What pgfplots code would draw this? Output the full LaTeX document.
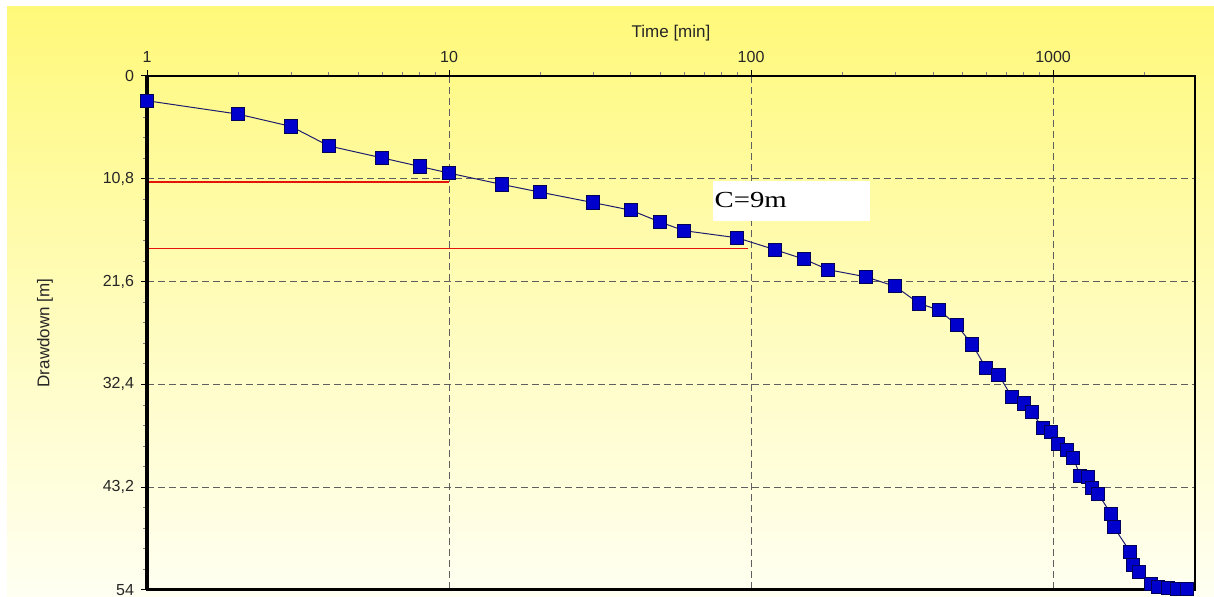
\documentclass[border=0pt]{standalone}
\usepackage{pgfplots}
\pgfplotsset{compat=1.18}
\usepackage{fontspec}
\setmainfont{Liberation Sans}
\newfontfamily\cfont[FakeStretch=1.25]{Liberation Serif}
\definecolor{ytop}{RGB}{255,249,122}
\definecolor{ymid}{RGB}{255,252,186}
\definecolor{ybot}{RGB}{255,255,242}
\definecolor{mkfill}{RGB}{0,0,205}
\definecolor{mkedge}{RGB}{0,0,90}
\definecolor{lncol}{RGB}{30,30,110}
\definecolor{gridc}{RGB}{95,95,95}
\definecolor{redl}{RGB}{228,20,10}
\begin{document}
\begin{tikzpicture}[x=1pt,y=1pt]
\fill[white] (0,0) rectangle (607,298.5);
\shade[top color=ytop, bottom color=ybot, middle color=ymid] (3.5,0) rectangle (607,295);
\useasboundingbox (0,0) rectangle (607,298.5);
\begin{axis}[
  at={(73.5pt,3.5pt)}, anchor=south west, scale only axis,
  width=524pt, height=257pt,
  xmode=log, xmin=1, xmax=2950, ymin=0, ymax=54, y dir=reverse,
  clip=false,
  xtick={1,10,100,1000}, xticklabels={1,10,100,1000},
  minor xtick={2,3,4,5,6,7,8,9,20,30,40,50,60,70,80,90,200,300,400,500,600,700,800,900,2000},
  ytick={0,10.8,21.6,32.4,43.2,54},
  yticklabels={0,{10,8},{21,6},{32,4},{43,2},54},
  minor y tick num=4,
  xtick pos=right, xticklabel pos=right, ytick pos=left, tick align=outside,
  major tick length=3pt, minor tick length=1.8pt,
  grid=major,
  major grid style={gridc, dash pattern=on 3.5pt off 2pt, line width=0.5pt},
  axis line style={line width=1pt, black},
  tick style={black, line width=0.5pt},
  minor tick style={gray, line width=0.4pt},
  tick label style={font=\fontsize{8}{9}\selectfont, text=black!85},
  label style={font=\fontsize{8.5}{10}\selectfont, text=black!85},
  xlabel={Time [min]}, ylabel={Drawdown [m]},
  xlabel style={at={(axis description cs:0.5,1.0837)}, anchor=center},
  ylabel style={at={(axis description cs:-0.0973,0.5)}, anchor=center},
]
\fill[white] (axis cs:75,11.0) rectangle (axis cs:248,15.2);
\node[anchor=west, font=\cfont\fontsize{11.5}{12}\selectfont, inner sep=0.5pt] at (axis cs:75,13.0) {C=9m};
\addplot[redl, line width=0.65pt, forget plot] coordinates {(1,11.15) (10,11.15)};
\addplot[redl, line width=0.65pt, forget plot] coordinates {(1,18.1) (98,18.1)};
\draw[black, line width=1.8pt] (axis cs:1,0) -- (axis cs:1,54);
\draw[black, line width=1.5pt] (axis cs:1,54) -- (axis cs:2950,54);
\addplot[lncol, line width=0.5pt, mark=square*, mark size=3.3pt,
  mark options={fill=mkfill, draw=mkedge, line width=0.5pt}] coordinates {
(1,2.6) (2,4.0) (3,5.3) (4,7.35) (6,8.6) (8,9.5) (10,10.2) (15,11.4) (20,12.2)
(30,13.3) (40,14.1) (50,15.35) (60,16.25) (90,17.0) (120,18.25) (150,19.25)
(180,20.35) (240,21.1) (300,22.1) (360,23.9) (420,24.6) (480,26.2) (540,28.2)
(600,30.7) (660,31.4) (730,33.7) (800,34.4) (850,35.3) (925,37.0) (985,37.4)
(1040,38.7) (1110,39.3) (1165,40.1) (1230,42.0) (1305,42.1) (1345,43.3)
(1410,43.9) (1555,46.0) (1590,47.4) (1800,50.0) (1840,51.4) (1930,52.1)
(2110,53.4) (2230,53.7) (2400,53.8) (2575,53.9) (2780,53.9)
};
\end{axis}
\end{tikzpicture}
\end{document}
